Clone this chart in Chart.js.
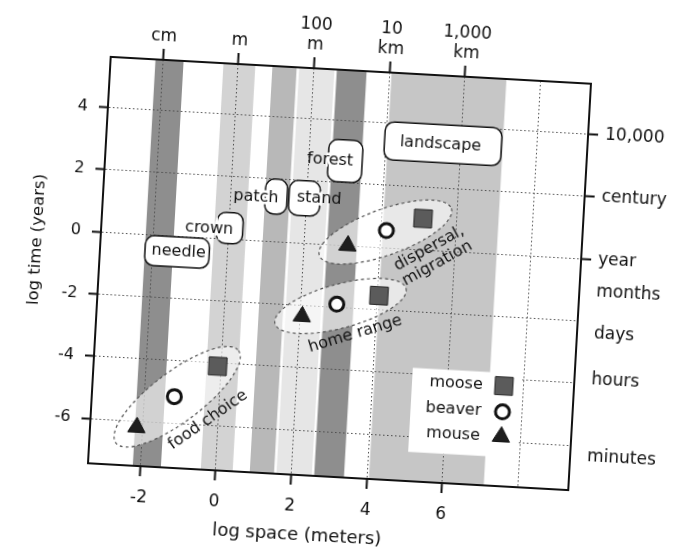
<!DOCTYPE html>
<html>
<head>
<meta charset="utf-8">
<script src="https://cdn.jsdelivr.net/npm/chart.js@4.4.1/dist/chart.umd.min.js"></script>
<style>
  html, body { margin: 0; padding: 0; background: #fff; overflow: hidden; }
  /* the scanned figure sits a little askew */
  #wrap { position: relative; width: 674px; height: 554px; transform: rotate(3.2deg); transform-origin: 339.5px 273px; }
</style>
</head>
<body>
<div id="wrap"><canvas id="chart" width="674" height="554"></canvas></div>
<script>
// shaded scale bands, log10 metres
const bandStarts = [-2.2, -0.4, 0.9, 1.6, 2.6, 4.05];
const bandEnds = [-1.45, 0.45, 1.55, 2.55, 3.4, 7.1];
const bandShades = ['#8e8e8e', '#d3d3d3', '#b8b8b8', '#e6e6e6', '#8e8e8e', '#c6c6c6'];

// one value per process: food choice, home range, dispersal/migration
const mooseX = [-0.1, 4.05, 5.1];
const mooseY = [-4.1, -1.55, 1.0];
const beaverX = [-1.2, 2.95, 4.15];
const beaverY = [-5.15, -1.9, 0.55];
const mouseX = [-2.15, 2.05, 3.15];
const mouseY = [-6.2, -2.35, 0.0];

const groupNames = [['food choice'], ['home range'], ['dispersal,', 'migration']];
const groupLabelX = [-0.28, 3.48, 5.42];
const groupLabelY = [-5.84, -2.82, -0.18];

// boxed scale names
const scaleNames = ['needle', 'crown', 'patch', 'stand', 'forest', 'landscape'];
const scaleBoxX0 = [-2.19, -0.33, 0.9, 1.53, 2.51, 3.97];
const scaleBoxX1 = [-0.49, 0.36, 1.48, 2.35, 3.41, 7.06];
const scaleBoxY0 = [-0.99, -0.15, 0.88, 0.88, 2.03, 2.82];
const scaleBoxY1 = [-0.03, 0.85, 2.0, 2.0, 3.38, 4.04];
const scaleTextX = [-1.3, -0.53, 0.66, 2.33, 2.56, 5.45];
const scaleTextY = [-0.51, 0.31, 1.39, 1.44, 2.71, 3.4];

// axes
const spaceTicks = [-2, 0, 2, 4, 6, 8];
const spaceTickLabels = ['-2', '0', '2', '4', '6', ''];
const topTicks = [-2, 0, 2, 4, 6];
const topTickLabels = [['cm'], ['m'], ['100', 'm'], ['10', 'km'], ['1,000', 'km']];
const timeTicks = [-6, -4, -2, 0, 2, 4];
const rightTicks = [4, 2, 0, -1.05, -2.4, -3.85, -6.35];
const rightTickLabels = ['10,000', 'century', 'year', 'months', 'days', 'hours', 'minutes'];
const rightTickMarked = [true, true, true, false, false, false, false];
const xTitle = 'log space (meters)';
const yTitle = 'log time (years)';

// legend box
const legendX = [5.05, 7.95];
const legendY = [-6.5, -3.8];
const legendTextX = 6.92;
const legendSymbolX = 7.48;
const legendRowY = [-4.22, -5.05, -5.85];

const ellipsePad = [26, 28, 30];
const ellipseMinor = [25, 22, 23];
const groupAngle = [-38, -20, -32];

const FONT = "'DejaVu Sans', 'Liberation Sans', sans-serif";
Chart.defaults.font.family = FONT;
Chart.defaults.color = '#111';

const X_MIN = -3.38, X_MAX = 9.33, Y_MIN = -7.44, Y_MAX = 5.62;

function toPoints(xs, ys) {
    return xs.map((x, i) => ({x: x, y: ys[i]}));
}

const bandSets = bandStarts.map((x0, i) => ({
    type: 'line',
    label: 'band' + i,
    data: [{x: x0, y: 6}, {x: bandEnds[i], y: 6}],
    fill: {value: -8},
    backgroundColor: bandShades[i],
    borderColor: 'transparent',
    borderWidth: 0,
    pointRadius: 0,
    order: 10
}));

const speciesSets = [
    {label: 'moose', data: toPoints(mooseX, mooseY), pointStyle: 'rect', pointRadius: 12.7,
        backgroundColor: '#5b5b5b', borderColor: '#262626', borderWidth: 1},
    {label: 'beaver', data: toPoints(beaverX, beaverY), pointStyle: 'circle', pointRadius: 7,
        backgroundColor: '#fff', borderColor: '#111', borderWidth: 3},
    {label: 'mouse', data: toPoints(mouseX, mouseY), pointStyle: 'triangle', pointRadius: 10,
        backgroundColor: '#1e1e1e', borderColor: '#111', borderWidth: 1}
].map(d => Object.assign({type: 'line', showLine: false, pointHoverRadius: d.pointRadius, order: 1}, d));

function roundBox(ctx, l, t, w, h, r) {
    ctx.beginPath();
    ctx.moveTo(l + r, t);
    ctx.arcTo(l + w, t, l + w, t + h, r);
    ctx.arcTo(l + w, t + h, l, t + h, r);
    ctx.arcTo(l, t + h, l, t, r);
    ctx.arcTo(l, t, l + w, t, r);
    ctx.closePath();
}

function drawSymbol(ctx, ds, px, py) {
    const r = ds.pointRadius;
    ctx.fillStyle = ds.backgroundColor;
    ctx.strokeStyle = ds.borderColor;
    ctx.lineWidth = ds.borderWidth;
    ctx.beginPath();
    if (ds.pointStyle === 'rect') {
        const s = r * Math.SQRT1_2;
        ctx.rect(px - s, py - s, 2 * s, 2 * s);
    } else if (ds.pointStyle === 'circle') {
        ctx.arc(px, py, r, 0, Math.PI * 2);
    } else {
        for (let k = 0; k < 3; k++) {
            const a = k * 2 * Math.PI / 3;
            const fx = px + Math.sin(a) * r, fy = py - Math.cos(a) * r;
            k === 0 ? ctx.moveTo(fx, fy) : ctx.lineTo(fx, fy);
        }
        ctx.closePath();
    }
    ctx.fill();
    ctx.stroke();
}

const annotate = {
    id: 'annotate',
    beforeDatasetsDraw(chart) {
        const {ctx, scales: {x, y}} = chart;
        ctx.save();
        for (let g = 0; g < groupNames.length; g++) {
            const x1 = x.getPixelForValue(mouseX[g]), y1 = y.getPixelForValue(mouseY[g]);
            const x2 = x.getPixelForValue(mooseX[g]), y2 = y.getPixelForValue(mooseY[g]);
            const a = Math.hypot(x2 - x1, y2 - y1) / 2 + ellipsePad[g];
            ctx.beginPath();
            ctx.ellipse((x1 + x2) / 2, (y1 + y2) / 2, a, ellipseMinor[g], Math.atan2(y2 - y1, x2 - x1), 0, Math.PI * 2);
            ctx.fillStyle = 'rgba(255,255,255,0.6)';
            ctx.fill();
            ctx.setLineDash([3, 3]);
            ctx.lineWidth = 1.2;
            ctx.strokeStyle = '#555';
            ctx.stroke();
        }
        ctx.restore();
    },
    afterDatasetsDraw(chart) {
        const {ctx, scales: {x, y}} = chart;
        ctx.save();

        // process names along the ellipses
        ctx.font = '16px ' + FONT;
        ctx.fillStyle = '#111';
        ctx.textAlign = 'center';
        ctx.textBaseline = 'middle';
        groupNames.forEach((lines, g) => {
            ctx.save();
            ctx.translate(x.getPixelForValue(groupLabelX[g]), y.getPixelForValue(groupLabelY[g]));
            ctx.rotate(groupAngle[g] * Math.PI / 180);
            lines.forEach((t, k) => ctx.fillText(t, 0, (k - (lines.length - 1) / 2) * 17));
            ctx.restore();
        });

        // boxed scale names
        scaleNames.forEach((name, i) => {
            const l = x.getPixelForValue(scaleBoxX0[i]), r = x.getPixelForValue(scaleBoxX1[i]);
            const t = y.getPixelForValue(scaleBoxY1[i]), b = y.getPixelForValue(scaleBoxY0[i]);
            roundBox(ctx, l, t, r - l, b - t, 9);
            ctx.fillStyle = '#fff';
            ctx.fill();
            ctx.lineWidth = 1.5;
            ctx.strokeStyle = '#111';
            ctx.stroke();
            const tx = x.getPixelForValue(scaleTextX[i]), ty = y.getPixelForValue(scaleTextY[i]);
            ctx.save();
            roundBox(ctx, l - 2, t - 2, r - l + 4, b - t + 4, 10);
            ctx.clip();
            ctx.lineWidth = 5;
            ctx.strokeStyle = '#fff';
            ctx.strokeText(name, tx, ty);
            ctx.restore();
            ctx.fillStyle = '#111';
            ctx.fillText(name, tx, ty);
        });

        // legend
        const lx0 = x.getPixelForValue(legendX[0]), lx1 = x.getPixelForValue(legendX[1]);
        const ly0 = y.getPixelForValue(legendY[1]), ly1 = y.getPixelForValue(legendY[0]);
        ctx.fillStyle = '#fff';
        ctx.fillRect(lx0, ly0, lx1 - lx0, ly1 - ly0);
        ctx.textAlign = 'right';
        speciesSets.forEach((ds, i) => {
            const py = y.getPixelForValue(legendRowY[i]);
            ctx.fillStyle = '#111';
            ctx.fillText(ds.label, x.getPixelForValue(legendTextX), py);
            drawSymbol(ctx, ds, x.getPixelForValue(legendSymbolX), py);
        });
        ctx.restore();
    },
    afterDraw(chart) {
        // axis titles sit a little off-centre in the original
        const {ctx, chartArea: a} = chart;
        ctx.save();
        ctx.fillStyle = '#111';
        ctx.textAlign = 'center';
        ctx.textBaseline = 'middle';
        ctx.font = '18px ' + FONT;
        ctx.fillText(xTitle, (a.left + a.right) / 2 - 28, a.bottom + 60);
        ctx.translate(a.left - 63, (a.top + a.bottom) / 2 - 17);
        ctx.rotate(-Math.PI / 2);
        ctx.font = '16.5px ' + FONT;
        ctx.fillText(yTitle, 0, 0);
        ctx.restore();
    }
};

const config = {
    type: 'line',
    data: {datasets: bandSets.concat(speciesSets)},
    options: {
        responsive: false,
        animation: false,
        devicePixelRatio: 1,
        layout: {padding: 0},
        plugins: {
            legend: {display: false},
            tooltip: {enabled: false},
            filler: {drawTime: 'beforeDraw'}
        },
        scales: {
            x: {
                type: 'linear', position: 'bottom', min: X_MIN, max: X_MAX,
                afterBuildTicks: a => { a.ticks = spaceTicks.map(v => ({value: v})); },
                afterFit: a => { a.height = 77; },
                ticks: {callback: (v, i) => spaceTickLabels[i], font: {family: FONT, size: 17}, padding: 11, maxRotation: 0, autoSkip: false},
                grid: {color: '#4a4a4a', lineWidth: 1, tickLength: 10, tickWidth: 2,
                    tickColor: c => spaceTickLabels[c.index] === '' ? 'transparent' : '#111'},
                border: {color: '#111', width: 2, dash: [1.5, 2.5]}
            },
            xTop: {
                type: 'linear', position: 'top', min: X_MIN, max: X_MAX,
                afterBuildTicks: a => { a.ticks = topTicks.map(v => ({value: v})); },
                afterFit: a => { a.height = 70; },
                ticks: {callback: (v, i) => topTickLabels[i], font: {family: FONT, size: 17}, padding: 2, maxRotation: 0, autoSkip: false},
                grid: {drawOnChartArea: false, tickLength: 11, tickWidth: 2, tickColor: '#111'},
                border: {color: '#111', width: 2}
            },
            y: {
                type: 'linear', position: 'left', min: Y_MIN, max: Y_MAX,
                afterBuildTicks: a => { a.ticks = timeTicks.map(v => ({value: v})); },
                afterFit: a => { a.width = 99; },
                ticks: {callback: v => String(v), font: {family: FONT, size: 16}, padding: 11, autoSkip: false},
                grid: {color: '#4a4a4a', lineWidth: 1, tickLength: 9, tickWidth: 2, tickColor: '#111'},
                border: {color: '#111', width: 2, dash: [1.5, 2.5]}
            },
            yRight: {
                type: 'linear', position: 'right', min: Y_MIN, max: Y_MAX,
                afterBuildTicks: a => { a.ticks = rightTicks.map(v => ({value: v})); },
                afterFit: a => { a.width = 94; },
                ticks: {callback: (v, i) => rightTickLabels[i], font: {family: FONT, size: 17}, padding: 7, autoSkip: false},
                grid: {drawOnChartArea: false, tickLength: 10, tickWidth: 2,
                    tickColor: c => rightTickMarked[c.index] ? '#111' : 'transparent'},
                border: {color: '#111', width: 2}
            }
        }
    },
    plugins: [annotate]
};

new Chart(document.getElementById('chart'), config);
</script>
</body>
</html>
